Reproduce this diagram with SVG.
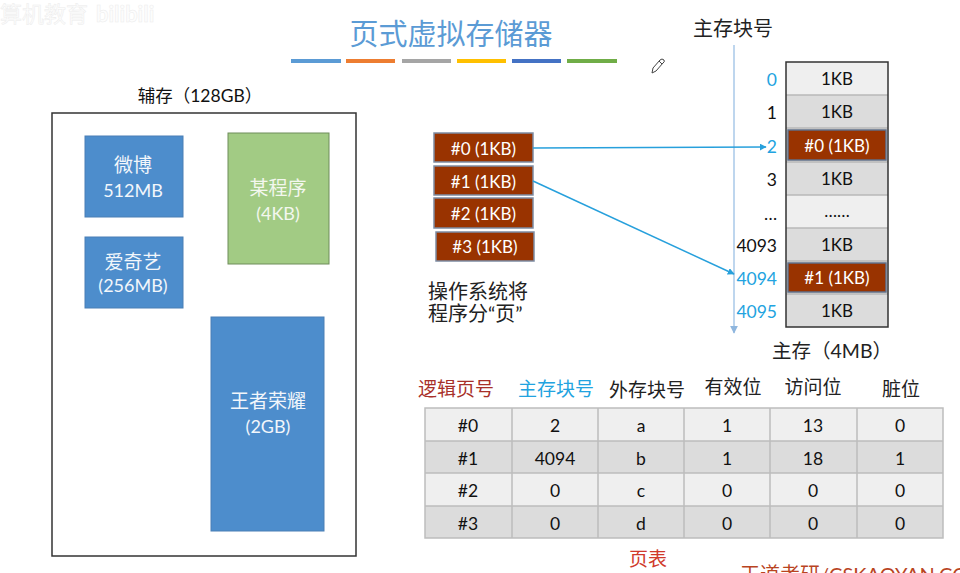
<svg xmlns="http://www.w3.org/2000/svg" width="960" height="573" viewBox="0 0 960 573">
<defs>
<style>
text{font-family:"Lato","Noto Sans CJK SC",sans-serif;}
.c{text-anchor:middle;dominant-baseline:central;}
.r{text-anchor:end;dominant-baseline:central;}
.blue{fill:#4d8dcc;stroke:#4a7fb5;stroke-width:1;}
.wt{fill:#f2f6fb;font-size:18px;}
.wc{fill:#f2f6fb;font-size:19px;}
.page{fill:#993300;stroke:#7d8ca3;stroke-width:1.5;}
.pt{fill:#ffffff;font-size:17px;}
.mlight{fill:#efefef;}
.mdark{fill:#dcdcdc;}
.msep{stroke:#b8b8b8;stroke-width:1.5;}
.mt{fill:#111;font-size:17px;}
.lbl{font-size:17.5px;fill:#111;}
.lblb{font-size:17.5px;fill:#22a3e0;}
.th{font-size:19px;fill:#222;}
.td{font-size:17.5px;fill:#111;}
.grid{stroke:#bdbdbd;stroke-width:1.5;fill:none;}
</style>
<marker id="ah" viewBox="0 0 10 10" refX="9" refY="5" markerWidth="7" markerHeight="7" orient="auto" markerUnits="userSpaceOnUse">
<path d="M0,0 L10,5 L0,10 z" fill="#27a0dc"/>
</marker>
<marker id="ahl" viewBox="0 0 10 10" refX="9" refY="5" markerWidth="8" markerHeight="8" orient="auto" markerUnits="userSpaceOnUse">
<path d="M0,0 L10,5 L0,10 z" fill="#8fb6de"/>
</marker>
</defs>
<rect width="960" height="573" fill="#ffffff"/>

<!-- watermark -->
<g id="watermark" font-size="22" fill="#fdfdfd" stroke="#ececec" stroke-width="0.5">
<text x="0" y="22">算机教育</text>
<text x="96" y="22" font-weight="bold">bilibili</text>
</g>

<!-- title -->
<g id="title">
<text x="451" y="33" class="c" font-size="29" fill="#5b9bd5">页式虚拟存储器</text>
<g>
<rect x="291" y="59" width="50" height="4" fill="#5b9bd5"/>
<rect x="346" y="59" width="49" height="4" fill="#ed7d31"/>
<rect x="402" y="59" width="49" height="4" fill="#a5a5a5"/>
<rect x="457" y="59" width="49" height="4" fill="#ffc000"/>
<rect x="512" y="59" width="49" height="4" fill="#4472c4"/>
<rect x="567" y="59" width="50" height="4" fill="#70ad47"/>
</g>
<path d="M652,73 L653,68 L660,60 Q662,58 664,60 Q665,62 663,63 L656,71 Z M659,61 L662,64" fill="none" stroke="#444" stroke-width="1"/>
</g>

<!-- secondary storage -->
<g id="aux">
<text x="200" y="95" class="c" font-size="17.5" fill="#111">辅存（128GB）</text>
<rect x="52" y="113" width="304" height="443" fill="#fff" stroke="#333" stroke-width="1.5"/>
</g>
<g id="weibo">
<rect x="85" y="136" width="98" height="81" class="blue"/>
<text x="133" y="164" class="c wc">微博</text>
<text x="133" y="190" class="c wt">512MB</text>
</g>
<g id="iqiyi">
<rect x="85" y="237" width="98" height="71" class="blue"/>
<text x="133" y="261" class="c wc">爱奇艺</text>
<text x="133" y="285" class="c wt">(256MB)</text>
</g>
<g id="program">
<rect x="228" y="133" width="101" height="131" fill="#a2cb84" stroke="#6f8d5a" stroke-width="1"/>
<text x="278" y="187" class="c wc" style="fill:#f3f7ee">某程序</text>
<text x="278" y="213" class="c wt" style="fill:#f3f7ee">(4KB)</text>
</g>
<g id="wzry">
<rect x="211" y="317" width="113" height="214" class="blue"/>
<text x="268" y="400" class="c wc">王者荣耀</text>
<text x="268" y="426" class="c wt">(2GB)</text>
</g>

<!-- pages -->
<g id="page0"><rect x="434" y="133" width="99" height="29" class="page"/><text x="483.5" y="148" class="c pt">#0 (1KB)</text></g>
<g id="page1"><rect x="434" y="166" width="99" height="29" class="page"/><text x="483.5" y="181" class="c pt">#1 (1KB)</text></g>
<g id="page2"><rect x="434" y="198" width="99" height="30" class="page"/><text x="483.5" y="213" class="c pt">#2 (1KB)</text></g>
<g id="page3"><rect x="436" y="232" width="98" height="29" class="page"/><text x="485" y="246.5" class="c pt">#3 (1KB)</text></g>
<g id="os-note" font-size="20" fill="#222">
<text x="428" y="299">操作系统将</text>
<text x="428" y="321">程序分“页”</text>
</g>

<!-- main memory -->
<g id="memory">
<text x="733" y="28" class="c" font-size="20" fill="#222">主存块号</text>
<rect x="786" y="62" width="102" height="33" class="mlight"/>
<rect x="786" y="95" width="102" height="33" class="mdark"/>
<rect x="786" y="128" width="102" height="34" class="mdark"/>
<rect x="786" y="162" width="102" height="33" class="mdark"/>
<rect x="786" y="195" width="102" height="33" class="mlight"/>
<rect x="786" y="228" width="102" height="33" class="mdark"/>
<rect x="786" y="261" width="102" height="33" class="mdark"/>
<rect x="786" y="294" width="102" height="33" class="mdark"/>
<g class="msep">
<line x1="786" y1="95" x2="888" y2="95"/>
<line x1="786" y1="128" x2="888" y2="128"/>
<line x1="786" y1="162" x2="888" y2="162"/>
<line x1="786" y1="195" x2="888" y2="195"/>
<line x1="786" y1="228" x2="888" y2="228"/>
<line x1="786" y1="261" x2="888" y2="261"/>
<line x1="786" y1="294" x2="888" y2="294"/>
</g>
<rect x="788" y="130" width="98" height="30" fill="#993300" stroke="#5f6f88" stroke-width="1.5"/>
<rect x="788" y="263" width="98" height="29" fill="#993300" stroke="#5f6f88" stroke-width="1.5"/>
<rect x="786" y="62" width="102" height="265" fill="none" stroke="#333" stroke-width="1.5"/>
<text x="837" y="78.5" class="c mt">1KB</text>
<text x="837" y="111.5" class="c mt">1KB</text>
<text x="837" y="145" class="c pt">#0 (1KB)</text>
<text x="837" y="178.5" class="c mt">1KB</text>
<text x="837" y="210" class="c mt">……</text>
<text x="837" y="244.5" class="c mt">1KB</text>
<text x="837" y="277.5" class="c pt">#1 (1KB)</text>
<text x="837" y="310.5" class="c mt">1KB</text>
<text x="777" y="79" class="r lblb">0</text>
<text x="777" y="112" class="r lbl">1</text>
<text x="777" y="146" class="r lblb">2</text>
<text x="777" y="179" class="r lbl">3</text>
<text x="777" y="213" class="r lbl">…</text>
<text x="777" y="245" class="r lbl">4093</text>
<text x="777" y="278" class="r lblb">4094</text>
<text x="777" y="311" class="r lblb">4095</text>
<text x="832" y="350" class="c" font-size="19.5" fill="#222">主存（4MB）</text>
</g>

<!-- connectors -->
<g id="connectors" fill="none">
<line x1="734" y1="45" x2="734" y2="333" stroke="#a9c9e8" stroke-width="1.5" marker-end="url(#ahl)"/>
<line x1="533" y1="148" x2="766" y2="147" stroke="#27a0dc" stroke-width="1.5" marker-end="url(#ah)"/>
<line x1="533" y1="181" x2="734" y2="274" stroke="#27a0dc" stroke-width="1.5" marker-end="url(#ah)"/>
</g>

<!-- page table -->
<g id="page-table">
<text x="456" y="388" class="c th" style="fill:#a8302a">逻辑页号</text>
<text x="556" y="388" class="c th" style="fill:#22a3e0">主存块号</text>
<text x="647" y="389" class="c th">外存块号</text>
<text x="733" y="386" class="c th">有效位</text>
<text x="813" y="386" class="c th">访问位</text>
<text x="901" y="388" class="c th">脏位</text>
<rect x="425" y="408" width="518" height="33" fill="#efefef"/>
<rect x="425" y="441" width="518" height="32" fill="#dcdcdc"/>
<rect x="425" y="473" width="518" height="33" fill="#efefef"/>
<rect x="425" y="506" width="518" height="32" fill="#dcdcdc"/>
<g class="grid">
<rect x="425" y="408" width="518" height="130"/>
<line x1="425" y1="441" x2="943" y2="441"/>
<line x1="425" y1="473" x2="943" y2="473"/>
<line x1="425" y1="506" x2="943" y2="506"/>
<line x1="512" y1="408" x2="512" y2="538"/>
<line x1="598" y1="408" x2="598" y2="538"/>
<line x1="684" y1="408" x2="684" y2="538"/>
<line x1="770" y1="408" x2="770" y2="538"/>
<line x1="857" y1="408" x2="857" y2="538"/>
</g>
<g class="td">
<text x="468" y="425" class="c">#0</text><text x="555" y="425" class="c">2</text><text x="641" y="425" class="c">a</text><text x="727" y="425" class="c">1</text><text x="813" y="425" class="c">13</text><text x="900" y="425" class="c">0</text>
<text x="468" y="458" class="c">#1</text><text x="555" y="458" class="c">4094</text><text x="641" y="458" class="c">b</text><text x="727" y="458" class="c">1</text><text x="813" y="458" class="c">18</text><text x="900" y="458" class="c">1</text>
<text x="468" y="490" class="c">#2</text><text x="555" y="490" class="c">0</text><text x="641" y="490" class="c">c</text><text x="727" y="490" class="c">0</text><text x="813" y="490" class="c">0</text><text x="900" y="490" class="c">0</text>
<text x="468" y="523" class="c">#3</text><text x="555" y="523" class="c">0</text><text x="641" y="523" class="c">d</text><text x="727" y="523" class="c">0</text><text x="813" y="523" class="c">0</text><text x="900" y="523" class="c">0</text>
</g>
<text x="648" y="558" class="c" font-size="19" fill="#d0392b">页表</text>
</g>

<!-- footer watermark -->
<text x="740" y="582" font-size="20" fill="#b9441f">王道考研/CSKAOYAN.COM</text>
</svg>
